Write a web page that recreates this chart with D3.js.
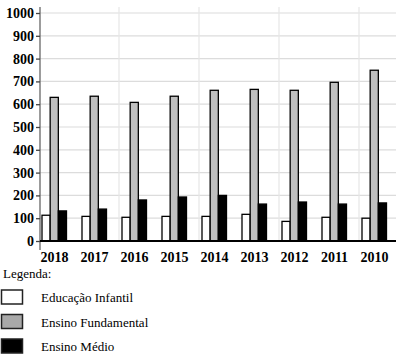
<!DOCTYPE html>
<html>
<head>
<meta charset="utf-8">
<script src="https://cdn.jsdelivr.net/npm/d3@7"></script>
</head>
<body style="margin:0;padding:0;background:#fff">
<svg id="chart" width="396" height="357" font-family="Liberation Serif" style="display:block"></svg>
<script>
const years = ["2018", "2017", "2016", "2015", "2014", "2013", "2012", "2011", "2010"];
const seriesNames = ["Educação Infantil", "Ensino Fundamental", "Ensino Médio"];
const infantil = [113, 108, 104, 108, 108, 117, 86, 104, 100];
const fundamental = [630, 635, 608, 635, 661, 665, 661, 696, 749];
const medio = [132, 140, 180, 193, 200, 162, 171, 162, 167];
const yTicks = [0, 100, 200, 300, 400, 500, 600, 700, 800, 900, 1000];
const legendTitle = "Legenda:";

const seriesValues = [infantil, fundamental, medio];
const fills = ["#ffffff", "#c0c0c0", "#000000"];
const legendFills = ["#ffffff", "#a9a9a9", "#000000"];

const svg = d3.select("#chart");
const fontFam = "Liberation Serif";

const x = d3.scaleBand().domain(years).range([40, 400]).paddingInner(0).paddingOuter(0);
const xs = d3.scaleBand().domain(seriesNames).range([2, 26.5]);
const y = d3.scaleLinear().domain([0, 1000]).range([241, 13]);

// grid
const grid = svg.append("g");
grid.selectAll("line.h").data(yTicks.filter(d => d > 0)).join("line")
  .attr("x1", 40).attr("x2", 396)
  .attr("y1", d => y(d)).attr("y2", d => y(d))
  .attr("stroke", "#dcdcdc").attr("stroke-width", 1.2);
grid.selectAll("line.v").data(years.filter((d, i) => i > 0 && i % 2 === 0)).join("line")
  .attr("x1", d => x(d) - 1).attr("x2", d => x(d) - 1)
  .attr("y1", 7).attr("y2", 241)
  .attr("stroke", "#e6e6e6").attr("stroke-width", 1.2);

// bars
const groups = svg.append("g").selectAll("g").data(years).join("g")
  .attr("transform", d => `translate(${x(d)},0)`);
groups.selectAll("rect").data((d, i) => seriesNames.map((s, j) => ({ s, j, v: seriesValues[j][i] })))
  .join("rect")
  .attr("x", d => xs(d.s))
  .attr("width", xs.bandwidth())
  .attr("y", d => y(d.v))
  .attr("height", d => y(0) - y(d.v))
  .attr("fill", d => fills[d.j])
  .attr("stroke", "#000")
  .attr("stroke-width", 1.3);

// y axis
const yAxis = svg.append("g").attr("transform", "translate(40,0)")
  .call(d3.axisLeft(y).tickValues(yTicks).tickSize(4).tickPadding(2).tickFormat(d3.format("d")));
yAxis.attr("font-family", fontFam).attr("font-size", 14).attr("font-weight", "bold");
yAxis.select(".domain").attr("d", "M0,7V250").attr("stroke", "#666").attr("stroke-width", 1.3);
yAxis.selectAll(".tick line").attr("stroke", "#444").attr("stroke-width", 1.3);
yAxis.selectAll(".tick text").attr("font-family", fontFam).attr("font-size", 14)
  .attr("font-weight", "bold").attr("fill", "#000");

// x axis baseline
svg.append("line").attr("x1", 40).attr("x2", 396).attr("y1", 241).attr("y2", 241)
  .attr("stroke", "#000").attr("stroke-width", 2);

// x labels
svg.append("g").selectAll("text").data(years).join("text")
  .attr("x", d => x(d) + 14.5)
  .attr("y", 262)
  .attr("text-anchor", "middle")
  .attr("font-family", fontFam).attr("font-size", 14).attr("font-weight", "bold")
  .text(d => d);

// legend
svg.append("text").attr("x", 3).attr("y", 278)
  .attr("font-family", fontFam).attr("font-size", 13).text(legendTitle);
const leg = svg.append("g").selectAll("g").data(seriesNames).join("g")
  .attr("transform", (d, i) => `translate(0,${290 + i * 24.5})`);
leg.append("rect").attr("x", 1.5).attr("y", 0).attr("width", 21).attr("height", 14)
  .attr("fill", (d, i) => legendFills[i]).attr("stroke", "#222").attr("stroke-width", 1.5);
leg.append("text").attr("x", 41).attr("y", 12)
  .attr("font-family", fontFam).attr("font-size", 13).text(d => d);
</script>
</body>
</html>
